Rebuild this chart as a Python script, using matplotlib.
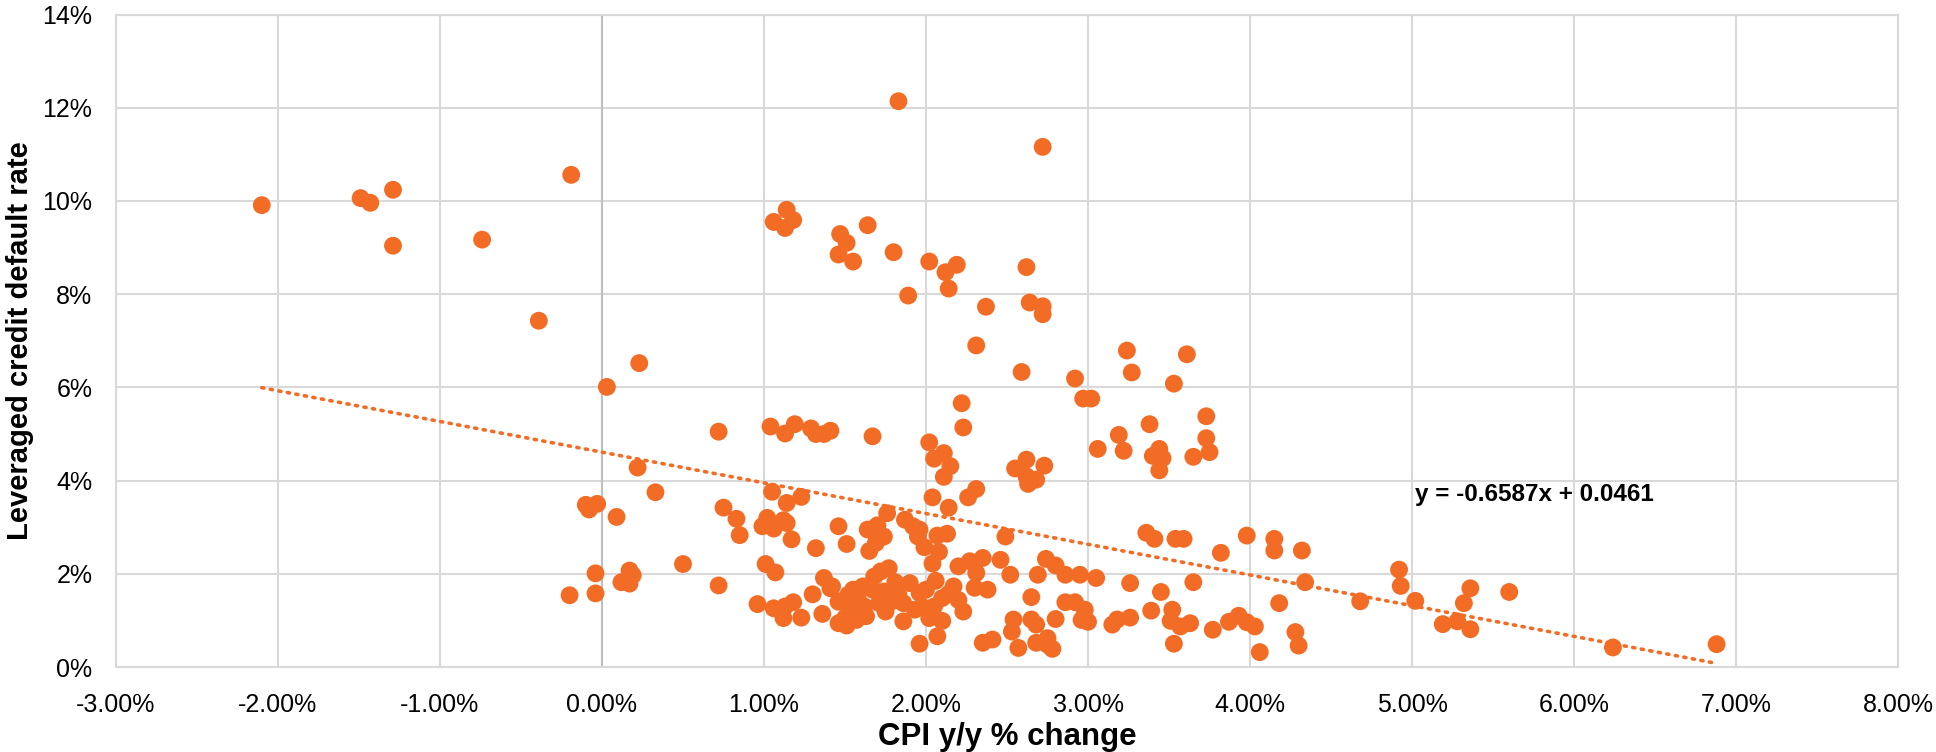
import numpy as np
import matplotlib
matplotlib.use("Agg")
import matplotlib.pyplot as plt
from matplotlib.ticker import FuncFormatter, MultipleLocator

# CPI y/y % change (x) and leveraged credit default rate (y), both in percent
cpi = [-2.10, -1.49, -1.43, -1.29, -1.29, -0.74, -0.19, -0.39, 0.23, 0.03,
       1.83, 2.72, 1.14, 1.06, 1.18, 1.13, 1.64, 1.47, 1.51, 1.46, 1.55, 1.80,
       2.02, 2.12, 2.19, 2.14, 1.89, 2.37, 2.62, 2.64, 2.72, 2.72, 2.31, 2.59,
       2.22, 3.24, 3.61, 3.27, 2.92, 2.97, 3.02, 3.53,
       0.72, 1.04, 1.13, 1.19, 1.29, 1.32, 1.37, 1.41, 0.22, 0.33, -0.10, -0.08,
       -0.03, 0.09, 1.67, 2.23, 2.02, 2.05, 2.11, 2.15, 2.11, 2.04, 2.14, 2.26,
       2.31, 2.62, 2.55, 2.63, 2.68, 2.73, 2.62, 3.73, 3.73, 3.75, 3.65, 3.38,
       3.19, 3.22, 3.06, 3.44, 3.40, 3.46, 3.44,
       -0.04, -0.04, -0.20, 0.17, 0.19, 0.12, 0.17, 0.50, 0.72,
       1.05, 1.14, 1.23, 0.75, 0.83, 0.85, 1.02, 0.99, 1.06, 1.12, 1.14, 1.17,
       1.32, 1.01, 1.07, 0.96, 1.06, 1.13, 1.18, 1.12, 1.23, 1.36, 1.30, 1.37,
       1.41, 1.46, 1.46,
       1.76, 1.46, 1.51, 1.64, 1.70, 1.74, 1.69, 1.65, 1.87, 1.92, 1.96, 1.95,
       1.99, 2.07, 2.13, 2.08, 2.04, 2.06, 2.49, 2.20, 2.27, 2.35, 2.31, 2.30,
       2.38, 2.46, 2.52, 2.69, 2.74, 2.65, 2.54, 2.53, 2.65, 2.68, 2.57, 2.68,
       2.35, 2.41, 2.75, 1.96, 2.07, 2.10, 1.86,
       1.42, 1.47, 1.51, 1.55, 1.57, 1.53, 1.61, 1.63, 1.68, 1.72, 1.77, 1.71,
       1.75, 1.79, 1.81, 1.67, 1.90, 1.86, 1.93, 1.96, 2.00, 1.99, 2.05, 2.10,
       2.14, 2.17, 2.20, 2.23, 1.50, 1.58, 1.62, 1.83, 2.02, 1.74, 1.52,
       2.80, 2.86, 2.95, 3.05, 3.26, 3.65, 3.45, 2.86, 2.92, 2.98, 3.00, 2.96,
       2.80, 2.75, 2.78, 3.15, 3.18, 3.26, 3.39, 3.52, 3.51, 3.57, 3.63, 3.53,
       3.77, 3.87, 3.93, 3.98, 4.03, 4.06, 3.36, 3.41, 3.54, 3.59, 3.98, 3.82,
       4.15, 4.15, 4.32, 4.34, 4.18, 4.28, 4.30, 4.68, 4.92, 4.93, 5.02, 5.19,
       5.28, 5.32, 5.36, 5.36, 5.60, 6.24, 6.88]

default_rate = [9.91, 10.06, 9.96, 10.24, 9.04, 9.17, 10.56, 7.43, 6.52, 6.01,
       12.14, 11.16, 9.81, 9.55, 9.59, 9.42, 9.48, 9.29, 9.10, 8.85, 8.70, 8.90,
       8.70, 8.47, 8.63, 8.12, 7.97, 7.73, 8.58, 7.82, 7.74, 7.57, 6.90, 6.33,
       5.66, 6.79, 6.71, 6.32, 6.19, 5.76, 5.76, 6.08,
       5.05, 5.16, 5.01, 5.21, 5.12, 5.00, 5.00, 5.07, 4.28, 3.75, 3.48, 3.38,
       3.50, 3.22, 4.95, 5.14, 4.82, 4.47, 4.59, 4.31, 4.08, 3.64, 3.42, 3.64,
       3.82, 4.45, 4.26, 3.93, 4.02, 4.32, 4.09, 5.38, 4.91, 4.61, 4.51, 5.21,
       4.98, 4.64, 4.68, 4.68, 4.53, 4.48, 4.22,
       2.01, 1.58, 1.54, 2.07, 1.97, 1.82, 1.79, 2.21, 1.75,
       3.76, 3.52, 3.65, 3.42, 3.18, 2.83, 3.20, 3.02, 2.97, 3.15, 3.09, 2.74,
       2.55, 2.21, 2.03, 1.35, 1.26, 1.30, 1.39, 1.05, 1.06, 1.14, 1.56, 1.91,
       1.69, 1.40, 0.94,
       3.30, 3.02, 2.64, 2.95, 3.04, 2.80, 2.66, 2.49, 3.16, 3.02, 2.95, 2.80,
       2.57, 2.82, 2.86, 2.47, 2.22, 1.85, 2.80, 2.16, 2.27, 2.34, 2.02, 1.70,
       1.66, 2.30, 1.98, 1.98, 2.32, 1.50, 1.02, 0.76, 1.02, 0.91, 0.41, 0.52,
       0.52, 0.59, 0.48, 0.50, 0.66, 0.99, 0.98,
       1.73, 1.41, 0.89, 1.66, 1.01, 1.23, 1.73, 1.09, 1.94, 2.05, 2.12, 1.37,
       1.19, 1.41, 1.82, 1.66, 1.80, 1.37, 1.23, 1.59, 1.66, 1.27, 1.30, 1.48,
       1.57, 1.73, 1.44, 1.19, 1.05, 1.45, 1.30, 1.55, 1.05, 1.62, 1.55,
       2.18, 1.98, 1.98, 1.91, 1.80, 1.82, 1.61, 1.39, 1.39, 1.23, 0.97, 1.01,
       1.03, 0.62, 0.39, 0.91, 1.02, 1.06, 1.21, 1.23, 0.99, 0.87, 0.94, 0.50,
       0.80, 0.97, 1.10, 0.96, 0.87, 0.32, 2.88, 2.75, 2.75, 2.75, 2.82, 2.45,
       2.75, 2.50, 2.50, 1.82, 1.37, 0.75, 0.46, 1.41, 2.09, 1.74, 1.42, 0.92,
       0.98, 1.37, 1.69, 0.81, 1.61, 0.42, 0.49]

# linear trendline as shown on the chart (fractions)
slope = -0.6587
intercept = 0.0461

orange = "#F26C25"
plt.rcParams["font.family"] = ["Liberation Sans", "DejaVu Sans"]

fig = plt.figure(figsize=(19.36, 7.52), dpi=100)
ax = fig.add_axes([0.0599, 0.113, 0.9205, 0.8677])

ax.scatter(cpi, default_rate, s=165, color=orange, edgecolors="none", zorder=3)

xs = np.array([min(cpi), max(cpi)])
ys = (slope * xs / 100 + intercept) * 100
ax.plot(xs, ys, color=orange, lw=2.6, linestyle=(0, (0.6, 1.8)),
        dash_capstyle="round", zorder=2)
ax.text(5.02, 3.70, "y = -0.6587x + 0.0461", fontsize=17.5, fontweight="bold",
        ha="left", va="center", zorder=4)

ax.set_xlim(-3, 8)
ax.set_ylim(0, 14)
ax.xaxis.set_major_locator(MultipleLocator(1))
ax.yaxis.set_major_locator(MultipleLocator(2))
ax.xaxis.set_major_formatter(FuncFormatter(lambda v, p: f"{v:.2f}%"))
ax.yaxis.set_major_formatter(FuncFormatter(lambda v, p: f"{v:.0f}%"))
ax.tick_params(axis="x", length=0, labelsize=18, pad=19)
ax.tick_params(axis="y", length=0, labelsize=18, pad=17)

ax.grid(True, color="#D9D9D9", lw=1.5, zorder=0)
ax.set_axisbelow(True)
for s in ax.spines.values():
    s.set_color("#D9D9D9")
    s.set_linewidth(1.5)
ax.axvline(0, color="#BFBFBF", lw=1.5, zorder=1)

ax.set_xlabel("CPI y/y % change", fontsize=22.5, fontweight="bold", labelpad=3)
ax.set_ylabel("Leveraged credit default rate", fontsize=21, fontweight="bold",
              va="center")
ax.yaxis.set_label_coords(-0.054, 0.5)

fig.savefig("out.png", dpi=100)
